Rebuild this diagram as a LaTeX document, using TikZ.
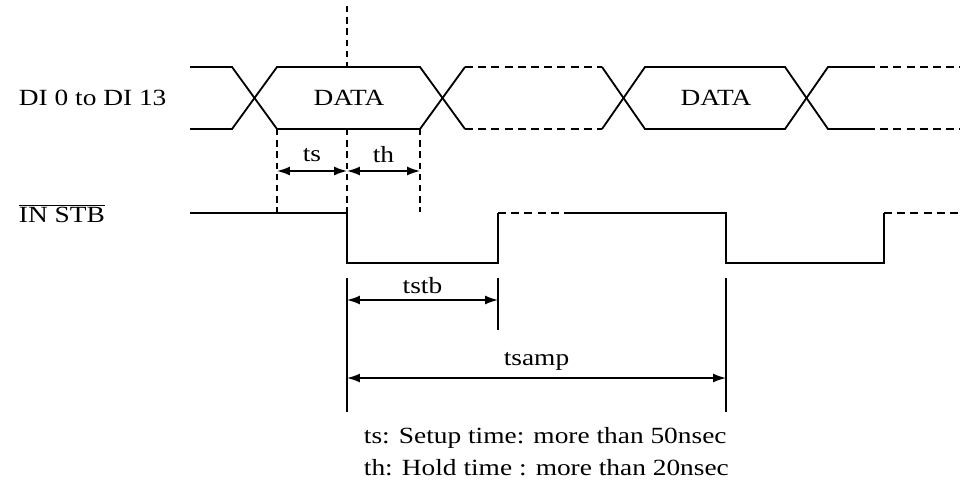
\documentclass[tikz,border=0pt]{standalone}
\usepackage{fontspec}
\setmainfont[FakeStretch=1.18]{Liberation Serif}
\usetikzlibrary{arrows.meta,positioning,calc}

\begin{document}
\begin{tikzpicture}[x=0.25mm, y=-0.25mm, line width=1.3pt,
    dsh/.style={dash pattern=on 2mm off 1.3mm},
    guide/.style={line width=1pt, dash pattern=on 1.6mm off 1.2mm},
    dim/.style={line width=1pt, {Latex[length=3.2mm,width=2.2mm]}-{Latex[length=3.2mm,width=2.2mm]}},
    txt/.style={font=\fontsize{16.5}{20}\selectfont, inner sep=0pt}]
    \useasboundingbox (0,0) rectangle (960,483);

    % Signal names
    \node[txt, anchor=west] (dilbl) at (18,98) {DI 0 to DI 13};
    \node[txt, anchor=west] (stblbl) at (18,214) {$\overline{\mbox{IN STB}}$};

    % Data bus (upper rail / lower rail)
    \draw (190,67) -- (232,67) -- (277,129) -- (420,129) -- (465,67);
    \draw[dsh] (465,67) -- (602,67);
    \draw (602,67) -- (645,129) -- (785,129) -- (828,67) -- (867,67);
    \draw[dsh] (867,67) -- (960,67);
    \draw (190,129) -- (232,129) -- (277,67) -- (420,67) -- (465,129);
    \draw[dsh] (465,129) -- (602,129);
    \draw (602,129) -- (645,67) -- (785,67) -- (828,129) -- (867,129);
    \draw[dsh] (867,129) -- (960,129);
    \node[txt] (data1) at (349,98) {DATA};
    \node[txt] (data2) at (716,98) {DATA};

    % Strobe
    \draw (190,213) -- (347,213) -- (347,263) -- (498,263) -- (498,213);
    \draw[dsh] (498,213) -- (568,213);
    \draw (568,213) -- (726,213) -- (726,263) -- (884,263) -- (884,213);
    \draw[dsh] (884,213) -- (960,213);

    % Guide lines
    \draw[guide] (347,6) -- (347,67);
    \draw[guide] (347,129) -- (347,213);
    \draw[guide] (277,129) -- (277,213);
    \draw[guide] (420,129) -- (420,212);

    % Setup / hold
    \coordinate (sa) at (277,171);
    \coordinate (sb) at (347,171);
    \coordinate (sc) at (420,171);
    \draw[dim] (sa) -- (sb);
    \draw[dim] (sb) -- (sc);
    \node[txt] (tslbl) at ($(sa)!0.5!(sb)+(0,-16)$) {ts};
    \node[txt] (thlbl) at ($(sb)!0.5!(sc)+(0,-16)$) {th};

    % Strobe width and sampling period
    \draw[line width=1pt] (347,278) -- (347,412);
    \draw[line width=1pt] (498,278) -- (498,330);
    \draw[line width=1pt] (726,278) -- (726,412);
    \coordinate (wa) at (347,300);
    \coordinate (wb) at (498,300);
    \coordinate (pa) at (347,378);
    \coordinate (pb) at (726,378);
    \draw[dim] (wa) -- (wb);
    \draw[dim] (pa) -- (pb);
    \node[txt] (tstblbl) at ($(wa)!0.5!(wb)+(0,-14)$) {tstb};
    \node[txt] (tsamplbl) at ($(pa)!0.5!(pb)+(0,-17)$) {tsamp};

    % Notes
    \node[txt, anchor=west] (note1) at (363,438) {ts: Setup time: more than 50nsec};
    \node[txt, anchor=west] (note2) at (363,468) {th: Hold time : more than 20nsec};
\end{tikzpicture}
\end{document}
